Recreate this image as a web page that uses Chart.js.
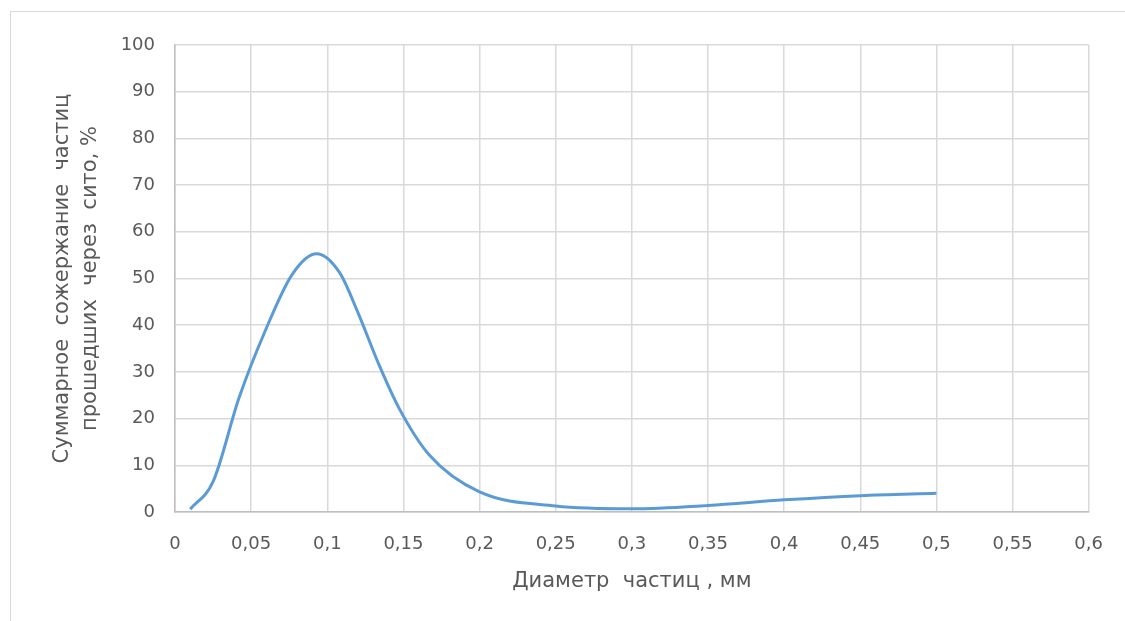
<!DOCTYPE html>
<html>
<head>
<meta charset="utf-8">
<script src="https://cdn.jsdelivr.net/npm/chart.js@4.4.0/dist/chart.umd.min.js"></script>
<style>
  html, body { margin: 0; padding: 0; background: #fff; overflow: hidden; }
  #frame { position: absolute; left: 10px; top: 11px; width: 1200px; height: 700px; border: 1px solid #d9d9d9; }
  #wrap { position: absolute; left: 0; top: 0; width: 1125px; height: 621px; }
</style>
</head>
<body>
<div id="frame"></div>
<div id="wrap"><canvas id="chart" width="1125" height="621"></canvas></div>
<script>
// diameter, mm
const diameters = [0.01, 0.025, 0.042, 0.059, 0.077, 0.093, 0.108, 0.12, 0.134, 0.147, 0.167, 0.2, 0.25, 0.3, 0.35, 0.4, 0.45, 0.5];
// cumulative content, %
const passed = [0.6, 6.5, 24.4, 38.6, 50.9, 55.3, 51.3, 42.8, 31.5, 22.3, 12.2, 4.3, 1.3, 0.7, 1.4, 2.6, 3.5, 4];
const xTickLabels = ['0', '0,05', '0,1', '0,15', '0,2', '0,25', '0,3', '0,35', '0,4', '0,45', '0,5', '0,55', '0,6'];
const yTickLabels = ['0', '10', '20', '30', '40', '50', '60', '70', '80', '90', '100'];

const points = diameters.map((d, i) => ({ x: d, y: passed[i] }));
const tickFont = { family: 'DejaVu Sans', size: 18 };
const titleFont = { family: 'DejaVu Sans', size: 21, lineHeight: 1.35 };
const textColor = '#595959';

const ctx = document.getElementById('chart').getContext('2d');
new Chart(ctx, {
    type: 'line',
    data: {
        datasets: [{
            data: points,
            borderColor: '#5b9bd5',
            borderWidth: 3,
            pointRadius: 0,
            cubicInterpolationMode: 'monotone',
            fill: false
        }]
    },
    options: {
        responsive: false,
        animation: false,
        layout: { padding: { top: 45, right: 34, left: 0, bottom: 25 } },
        plugins: { legend: { display: false }, tooltip: { enabled: false } },
        scales: {
            x: {
                type: 'linear',
                min: 0,
                max: 0.6,
                afterBuildTicks: (scale) => {
                    scale.ticks = xTickLabels.map((t, i) => ({ value: i * 0.05 }));
                },
                afterFit: (scale) => { scale.height = 84; },
                grid: { color: '#d9d9d9', lineWidth: 1.5, drawTicks: false },
                border: { color: '#bfbfbf', width: 1.5 },
                ticks: {
                    color: textColor,
                    font: tickFont,
                    padding: 22,
                    maxRotation: 0,
                    autoSkip: false,
                    callback: (v, i) => xTickLabels[i]
                },
                title: {
                    display: true,
                    text: 'Диаметр  частиц , мм',
                    color: textColor,
                    font: titleFont,
                    padding: { top: 0, bottom: 0 }
                }
            },
            y: {
                min: 0,
                max: 100,
                afterBuildTicks: (scale) => {
                    scale.ticks = yTickLabels.map((t, i) => ({ value: i * 10 }));
                },
                afterFit: (scale) => { scale.width = 175; },
                grid: { color: '#d9d9d9', lineWidth: 1.5, drawTicks: false },
                border: { color: '#bfbfbf', width: 1.5 },
                ticks: {
                    color: textColor,
                    font: tickFont,
                    padding: 20,
                    callback: (v, i) => yTickLabels[i]
                },
                title: {
                    display: true,
                    text: ['Суммарное  сожержание  частиц', 'прошедших  через  сито, %'],
                    color: textColor,
                    font: titleFont,
                    padding: { top: 48 }
                }
            }
        }
    }
});
</script>
</body>
</html>
